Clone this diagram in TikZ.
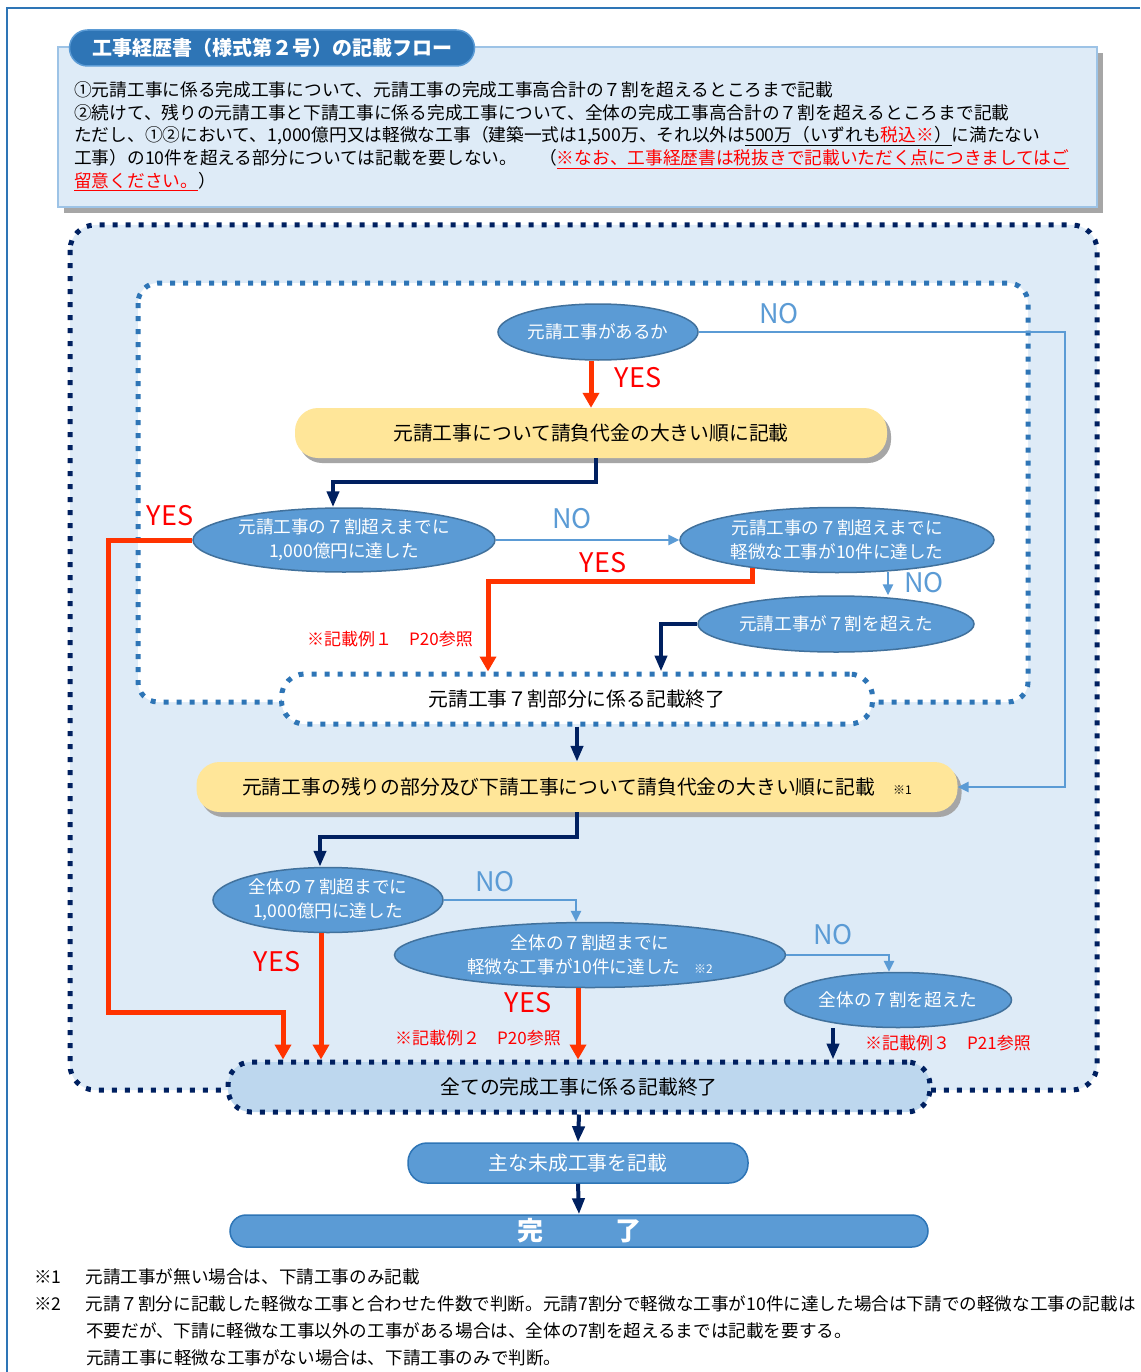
\documentclass[tikz,border=0pt]{standalone}
\usepackage{fontspec}
\setmainfont{Noto Sans CJK JP}
\usepackage{tikz}
\usetikzlibrary{shapes}
\usetikzlibrary{shadows}
\usetikzlibrary{arrows.meta}
\definecolor{frameblue}{HTML}{2E75B6}
\definecolor{headfill}{HTML}{DEEBF7}
\definecolor{headborder}{HTML}{9DC3E6}
\definecolor{shadowgray}{HTML}{A6A6A6}
\definecolor{ellfill}{HTML}{5B9BD5}
\definecolor{ellborder}{HTML}{41719C}
\definecolor{boxyellow}{HTML}{FFE699}
\definecolor{navy}{HTML}{002060}
\definecolor{arrowred}{HTML}{FF3300}
\definecolor{labred}{HTML}{FF0000}
\definecolor{endfill}{HTML}{BDD7EE}
\newcommand{\sz}[2]{\fontsize{#1pt}{#2pt}\selectfont}
\newcommand{\decision}[6]{\node[decision,minimum width=#4pt,minimum height=#5pt] (#1) at ( #2 , #3 ) {#6};}
\newcommand{\lablyes}[3]{\node[yeslabel] (#1) at ( #2 , #3 ) {YES};}
\newcommand{\lablno}[3]{\node[nolabel] (#1) at ( #2 , #3 ) {NO};}
\newcommand{\lablref}[4]{\node[reflabel] (#1) at ( #2 , #3 ) {#4};}
\tikzset{
  decision/.style={ellipse, draw=ellborder, fill=ellfill, line width=1.5pt, text=white, align=center, inner sep=0pt, font=\sz{17.6}{24}},
  yellowbox/.style={rectangle, rounded corners=23pt, fill=boxyellow, inner sep=0pt, font=\sz{19.8}{24},
    drop shadow={shadow xshift=4pt, shadow yshift=-5pt, fill=shadowgray, opacity=1}},
  dotbox/.style={rectangle, rounded corners=23pt, draw=navy, line width=5pt, dash pattern=on 5pt off 8pt, inner sep=0pt, font=\sz{19.8}{24}},
  pillbox/.style={rectangle, fill=ellfill, draw=frameblue, line width=1.5pt, text=white, inner sep=0pt},
  notetext/.style={anchor=west, inner sep=0pt, font=\sz{17.7}{23}},
  foottext/.style={anchor=west, inner sep=0pt, font=\sz{17.6}{23}},
  yeslabel/.style={text=labred, inner sep=0pt, font=\sz{27}{27}},
  nolabel/.style={text=ellfill, inner sep=0pt, font=\sz{27}{27}},
  reflabel/.style={text=labred, inner sep=0pt, font=\sz{17}{20}},
  redarrow/.style={draw=arrowred, line width=5pt, -{Triangle[width=16pt,length=15pt]}},
  navyarrow/.style={draw=navy, line width=4pt, -{Triangle[width=12pt,length=16pt]}},
  bluearrow/.style={draw=ellfill, line width=2.5pt, -{Triangle[width=10pt,length=11pt]}}
}
\begin{document}
\begin{tikzpicture}[x=1pt,y=-1pt]
    \useasboundingbox (0,0) rectangle (1140,1372);
    \draw[frameblue, line width=2pt] (7,1372) -- (7,8) -- (1140,8);

    % header
    \fill[shadowgray] (64,53) rectangle (1103,213);
    \draw[headborder, fill=headfill, line width=2pt] (58,47) rectangle (1097,207);
    \node[pillbox, rounded corners=18pt, draw=ellfill, fill=frameblue, minimum width=405pt, minimum height=36pt,
      font=\sz{20}{20}\bfseries] (title) at (272,48) {工事経歴書（様式第２号）の記載フロー};
    \node[notetext] (note1) at (74,90) {①元請工事に係る完成工事について、元請工事の完成工事高合計の７割を超えるところまで記載};
    \node[notetext] (note2) at (74,113) {②続けて、残りの元請工事と下請工事に係る完成工事について、全体の完成工事高合計の７割を超えるところまで記載};
    \node[notetext] (note3) at (74,136) {ただし、①②において、1,000億円又は軽微な工事（建築一式は1,500万、それ以外は\underline{500万（いずれも\textcolor{labred}{税込※}）}に満たない};
    \node[notetext] (note4) at (74,159) {工事）の10件を超える部分については記載を要しない。\hspace{22pt}（\textcolor{labred}{\underline{※なお、工事経歴書は税抜きで記載いただく点につきましてはご}}};
    \node[notetext] (note5) at (74,182) {\textcolor{labred}{\underline{留意ください。}}）};

    % frames
    \draw[navy, fill=headfill, line width=5pt, dash pattern=on 5pt off 8pt, rounded corners=25pt] (70,225) rectangle (1097,1090);
    \draw[frameblue, fill=white, line width=5pt, dash pattern=on 5pt off 8pt, rounded corners=20pt] (138,283) rectangle (1028,702);

    % first half
    \decision{n1}{598}{332}{200}{56}{元請工事があるか}
    \node[yellowbox, minimum width=592pt, minimum height=50pt] (n2) at (591,433) {元請工事について請負代金の大きい順に記載};
    \decision{n3}{344}{540}{302}{64}{元請工事の７割超えまでに\\1,000億円に達した}
    \decision{n4}{837}{540}{314}{65}{元請工事の７割超えまでに\\軽微な工事が10件に達した}
    \decision{n5}{836}{624}{276}{56}{元請工事が７割を超えた}
    \node[dotbox, draw=frameblue, fill=white, minimum width=591pt, minimum height=50pt] (n6) at (577,699) {元請工事７割部分に係る記載終了};

    % second half
    \node[yellowbox, minimum width=761pt, minimum height=50pt] (n7) at (577,787) {元請工事の残りの部分及び下請工事について請負代金の大きい順に記載\hspace{18pt}{\sz{12}{12}※1}};
    \decision{n8}{328}{900}{230}{65}{全体の７割超までに\\1,000億円に達した}
    \decision{n9}{590}{955}{391}{65}{全体の７割超までに\\軽微な工事が10件に達した\hspace{14pt}{\sz{12}{12}※2}}
    \decision{n10}{898}{1000}{227}{55}{全体の７割を超えた}
    \node[dotbox, fill=endfill, minimum width=702pt, minimum height=50pt] (n11) at (579,1087) {全ての完成工事に係る記載終了};
    \node[pillbox, rounded corners=19pt, minimum width=340pt, minimum height=40pt, font=\sz{19.8}{20}] (n12) at (578,1163) {主な未成工事を記載};
    \node[pillbox, rounded corners=16pt, minimum width=698pt, minimum height=32pt, font=\sz{26}{26}\bfseries] (n13) at (579,1231) {完\hspace{72pt}了};

    % connectors
    \coordinate (noturn) at (1065,332);
    \coordinate (yesturn) at (108,1012);
    \draw[redarrow] (n1.south -| n2.north) -- (n2.north);
    \draw[bluearrow] (n1.east) -- (noturn) |- (n7.east);
    \draw[navyarrow] ([xshift=5pt]n2.south) -- ++(0,24) -| ([xshift=-11pt]n3.north);
    \draw[bluearrow] (n3.east) -- (n4.west);
    \draw[redarrow] (n3.west) -| (yesturn) -| ([xshift=-296pt]n11.north);
    \draw[redarrow] ([xshift=-85pt,yshift=5pt]n4.south) -- ++(0,13) -| ([xshift=-89pt]n6.north);
    \draw[bluearrow] ([xshift=51pt,yshift=1pt]n4.south) -- ([xshift=52pt]n5.north);
    \draw[navyarrow] (n5.west) -| ([xshift=84pt]n6.north);
    \draw[navyarrow] (n6.south) -- (n7.north);
    \draw[navyarrow] (n7.south) -- ++(0,25) -| ([xshift=-8pt]n8.north);
    \draw[bluearrow] (n8.east) -| ([xshift=-14pt]n9.north);
    \draw[redarrow] ([xshift=-7pt]n8.south) -- ([xshift=-258pt]n11.north);
    \draw[bluearrow] (n9.east) -| ([xshift=-9pt]n10.north);
    \draw[redarrow] ([xshift=-12pt]n9.south) -- ([xshift=-1pt]n11.north);
    \draw[navyarrow] ([xshift=-65pt]n10.south) -- ([xshift=254pt]n11.north);
    \draw[navyarrow] (n11.south) -- (n12.north);
    \draw[navyarrow] (n12.south) -- (n13.north);

    % labels
    \lablyes{yes1}{638}{378}
    \lablno{no1}{779}{314}
    \lablyes{yes3}{170}{516}
    \lablno{no3}{572}{519}
    \lablyes{yes4}{603}{563}
    \lablno{no4}{924}{583}
    \lablref{ref1}{390}{639}{※記載例１　P20参照}
    \lablno{no8}{495}{882}
    \lablyes{yes8}{277}{962}
    \lablno{no9}{833}{935}
    \lablyes{yes9}{528}{1003}
    \lablref{ref2}{478}{1038}{※記載例２　P20参照}
    \lablref{ref3}{948}{1043}{※記載例３　P21参照}

    % footnotes
    \node[foottext] (foot1) at (34,1277) {※1\hspace{24pt}元請工事が無い場合は、下請工事のみ記載};
    \node[foottext] (foot2) at (34,1304) {※2\hspace{24pt}元請７割分に記載した軽微な工事と合わせた件数で判断。元請7割分で軽微な工事が10件に達した場合は下請での軽微な工事の記載は};
    \node[foottext] (foot3) at (86,1331) {不要だが、下請に軽微な工事以外の工事がある場合は、全体の7割を超えるまでは記載を要する。};
    \node[foottext] (foot4) at (86,1358) {元請工事に軽微な工事がない場合は、下請工事のみで判断。};
\end{tikzpicture}
\end{document}
